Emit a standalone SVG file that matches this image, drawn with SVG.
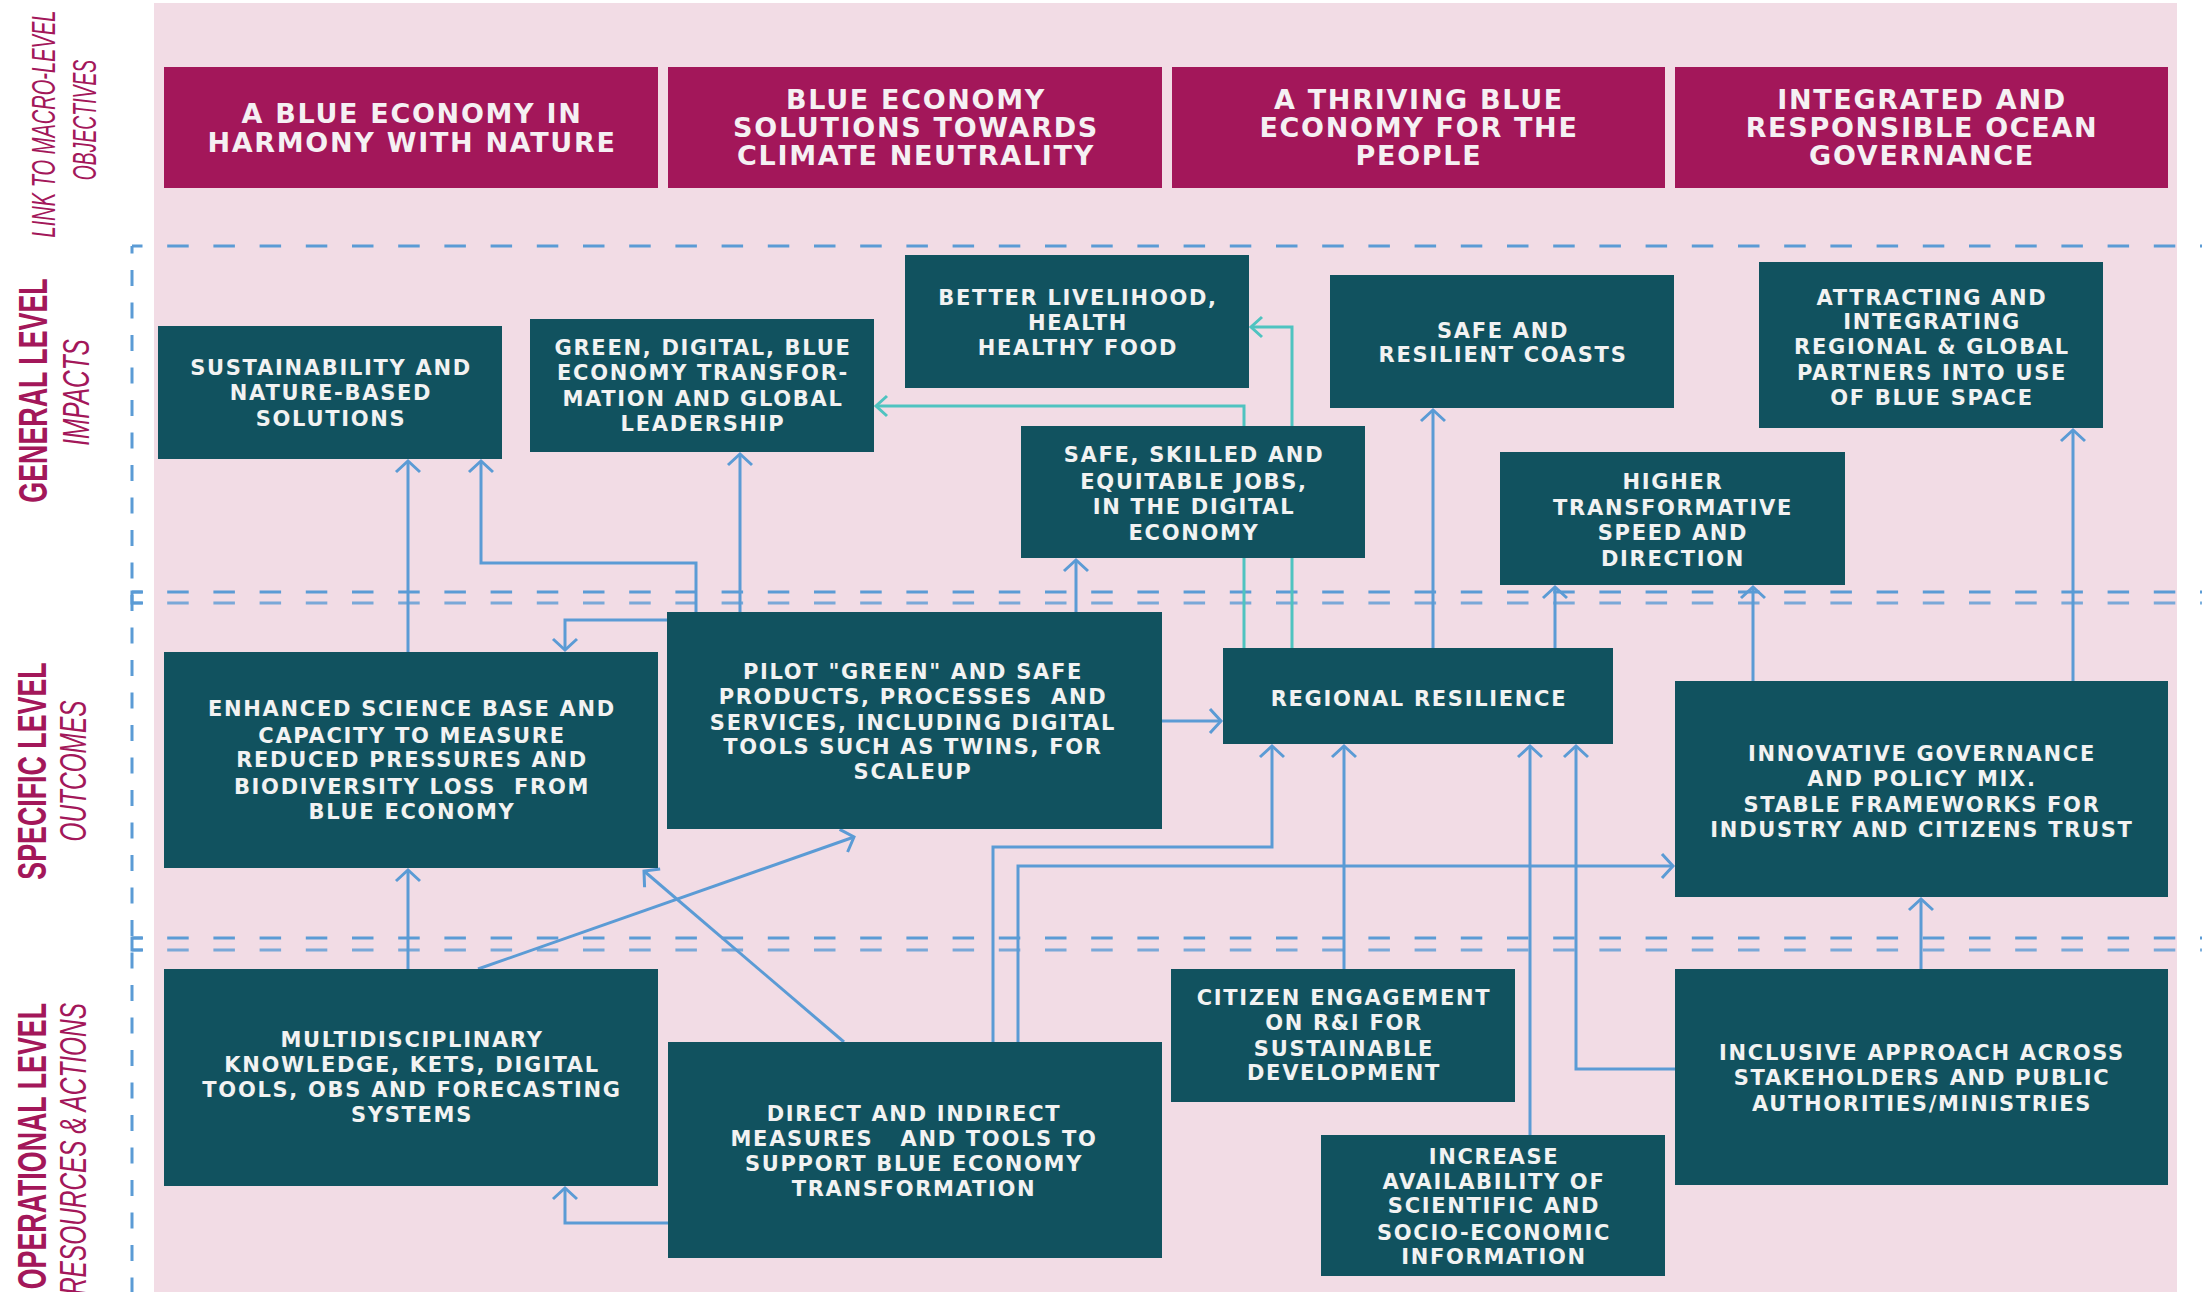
<svg xmlns="http://www.w3.org/2000/svg" width="2202" height="1292" viewBox="0 0 2202 1292">
<style>
.bg{fill:#F2DCE5}
.obj{fill:#A3175A}
.box{fill:#11525F}
.h{font-family:"DejaVu Sans",sans-serif;font-weight:bold;font-size:27px;letter-spacing:1.7px;fill:#F5F0F3;text-anchor:middle}
.t{font-family:"DejaVu Sans",sans-serif;font-weight:bold;font-size:21px;letter-spacing:1.7px;fill:#F2F2F2;text-anchor:middle}
.lvl{font-family:"Liberation Sans",Arial,sans-serif;font-weight:bold;font-size:40px;fill:#A3175A}
.sub{font-family:"Liberation Sans",Arial,sans-serif;font-style:italic;font-size:37px;fill:#A3175A}
.link{font-family:"Liberation Sans",Arial,sans-serif;font-style:italic;font-size:34px;fill:#A3175A}
.dh{fill:none;stroke:#5B9BD5;stroke-width:3;stroke-dasharray:21.5 24.7;stroke-dashoffset:11}
.dv{fill:none;stroke:#5B9BD5;stroke-width:3;stroke-dasharray:16 16.5;stroke-dashoffset:8.5}
.br{fill:none;stroke:#5B9BD5;stroke-width:3}
.c{fill:none;stroke:#5B9BD5;stroke-width:3;marker-end:url(#ah)}
.cc{fill:none;stroke:#4FC3C0;stroke-width:3;marker-end:url(#ahc)}
</style>
<defs>
<marker id="ah" viewBox="-16 -16 20 32" markerWidth="20" markerHeight="32" refX="0" refY="0" orient="auto" markerUnits="userSpaceOnUse">
<path d="M-11,-12 L0,0 L-11,12" fill="none" stroke="#5B9BD5" stroke-width="3"/>
</marker>
<marker id="ahc" viewBox="-16 -16 20 32" markerWidth="20" markerHeight="32" refX="0" refY="0" orient="auto" markerUnits="userSpaceOnUse">
<path d="M-11,-10 L0,0 L-11,10" fill="none" stroke="#4FC3C0" stroke-width="3"/>
</marker>
</defs>

<rect width="2202" height="1292" fill="#FFFFFF"/>
<rect class="bg" x="154" y="3" width="2023" height="1289"/>

<g id="guides">
<path class="dh" d="M132,246 H2202"/>
<path class="dh" d="M132,592 H2202"/>
<path class="dh" d="M132,603 H2202" stroke-opacity="0.8"/>
<path class="dh" d="M132,938 H2202"/>
<path class="dh" d="M132,950 H2202" stroke-opacity="0.8"/>
<path class="dv" d="M132,246 V1292"/>
<path class="br" d="M143,592 H132 V603 H143"/>
<path class="br" d="M143,938 H132 V950 H143"/>
</g>

<g id="side-labels">
<text class="link" text-anchor="middle" transform="translate(55,124) rotate(-90) scale(0.59,1)">LINK TO MACRO-LEVEL</text>
<text class="link" text-anchor="middle" transform="translate(96,120) rotate(-90) scale(0.57,1)">OBJECTIVES</text>
<text class="lvl" text-anchor="middle" transform="translate(47,390.5) rotate(-90) scale(0.67,1)">GENERAL LEVEL</text>
<text class="sub" text-anchor="middle" transform="translate(89,392.5) rotate(-90) scale(0.66,1)">IMPACTS</text>
<text class="lvl" text-anchor="middle" transform="translate(46,771) rotate(-90) scale(0.67,1)">SPECIFIC LEVEL</text>
<text class="sub" text-anchor="middle" transform="translate(86,771) rotate(-90) scale(0.66,1)">OUTCOMES</text>
<text class="lvl" text-anchor="end" transform="translate(46,1003) rotate(-90) scale(0.67,1)">OPERATIONAL LEVEL</text>
<text class="sub" text-anchor="end" transform="translate(86,1003) rotate(-90) scale(0.66,1)">RESOURCES &amp; ACTIONS</text>
</g>

<g id="connectors">
<path class="c" d="M408,652 V461"/>
<path class="c" d="M696,612 V563 H481 V461"/>
<path class="c" d="M667,620 H565 V650"/>
<path class="c" d="M740,612 V454"/>
<path class="c" d="M1076,612 V560"/>
<path class="c" d="M1162,721 H1221"/>
<path class="cc" d="M1244,648 V406 H876"/>
<path class="cc" d="M1292,648 V327 H1251"/>
<path class="c" d="M1433,648 V410"/>
<path class="c" d="M1555,648 V587"/>
<path class="c" d="M1753,681 V587"/>
<path class="c" d="M2073,681 V430"/>
<path class="c" d="M1921,969 V899"/>
<path class="c" d="M408,969 V870"/>
<path class="c" d="M478,969 L854,837"/>
<path class="c" d="M844,1042 L644,871"/>
<path class="c" d="M668,1223 H565 V1188"/>
<path class="c" d="M993,1042 V847 H1272 V746"/>
<path class="c" d="M1018,1042 V866 H1673"/>
<path class="c" d="M1344,969 V746"/>
<path class="c" d="M1530,1135 V746"/>
<path class="c" d="M1675,1069 H1576 V746"/>
</g>

<g id="obj-harmony">
<rect class="obj" x="164" y="67" width="494" height="121"/>
<text class="h" x="412" y="122.5">A BLUE ECONOMY IN</text>
<text class="h" x="412" y="151.5">HARMONY WITH NATURE</text>
</g>
<g id="obj-climate">
<rect class="obj" x="668" y="67" width="494" height="121"/>
<text class="h" x="916" y="108.5">BLUE ECONOMY</text>
<text class="h" x="916" y="136.5">SOLUTIONS TOWARDS</text>
<text class="h" x="916" y="164.5">CLIMATE NEUTRALITY</text>
</g>
<g id="obj-people">
<rect class="obj" x="1172" y="67" width="493" height="121"/>
<text class="h" x="1419" y="108.5">A THRIVING BLUE</text>
<text class="h" x="1419" y="136.5">ECONOMY FOR THE</text>
<text class="h" x="1419" y="164.5">PEOPLE</text>
</g>
<g id="obj-governance">
<rect class="obj" x="1675" y="67" width="493" height="121"/>
<text class="h" x="1922" y="108.5">INTEGRATED AND</text>
<text class="h" x="1922" y="136.5">RESPONSIBLE OCEAN</text>
<text class="h" x="1922" y="164.5">GOVERNANCE</text>
</g>

<g id="imp-sustainability">
<rect class="box" x="158" y="326" width="344" height="133"/>
<text class="t" x="331" y="374.5">SUSTAINABILITY AND</text>
<text class="t" x="331" y="399.5">NATURE-BASED</text>
<text class="t" x="331" y="425.5">SOLUTIONS</text>
</g>
<g id="imp-green-digital">
<rect class="box" x="530" y="319" width="344" height="133"/>
<text class="t" x="703" y="354.5">GREEN, DIGITAL, BLUE</text>
<text class="t" x="703" y="379.5">ECONOMY TRANSFOR-</text>
<text class="t" x="703" y="405.5">MATION AND GLOBAL</text>
<text class="t" x="703" y="430.5">LEADERSHIP</text>
</g>
<g id="imp-livelihood">
<rect class="box" x="905" y="255" width="344" height="133"/>
<text class="t" x="1078" y="304.5">BETTER LIVELIHOOD,</text>
<text class="t" x="1078" y="329.5">HEALTH</text>
<text class="t" x="1078" y="354.5">HEALTHY FOOD</text>
</g>
<g id="imp-jobs">
<rect class="box" x="1021" y="426" width="344" height="132"/>
<text class="t" x="1194" y="461.5">SAFE, SKILLED AND</text>
<text class="t" x="1194" y="488.5">EQUITABLE JOBS,</text>
<text class="t" x="1194" y="513.5">IN THE DIGITAL</text>
<text class="t" x="1194" y="539.5">ECONOMY</text>
</g>
<g id="imp-coasts">
<rect class="box" x="1330" y="275" width="344" height="133"/>
<text class="t" x="1503" y="337.5">SAFE AND</text>
<text class="t" x="1503" y="361.5">RESILIENT COASTS</text>
</g>
<g id="imp-partners">
<rect class="box" x="1759" y="262" width="344" height="166"/>
<text class="t" x="1932" y="304.5">ATTRACTING AND</text>
<text class="t" x="1932" y="328.5">INTEGRATING</text>
<text class="t" x="1932" y="353.5">REGIONAL &amp; GLOBAL</text>
<text class="t" x="1932" y="379.5">PARTNERS INTO USE</text>
<text class="t" x="1932" y="404.5">OF BLUE SPACE</text>
</g>
<g id="imp-speed">
<rect class="box" x="1500" y="452" width="345" height="133"/>
<text class="t" x="1673" y="488.5">HIGHER</text>
<text class="t" x="1673" y="514.5">TRANSFORMATIVE</text>
<text class="t" x="1673" y="539.5">SPEED AND</text>
<text class="t" x="1673" y="565.5">DIRECTION</text>
</g>

<g id="out-science">
<rect class="box" x="164" y="652" width="494" height="216"/>
<text class="t" x="412" y="715.5">ENHANCED SCIENCE BASE AND</text>
<text class="t" x="412" y="742.5">CAPACITY TO MEASURE</text>
<text class="t" x="412" y="766.5">REDUCED PRESSURES AND</text>
<text class="t" x="412" y="793.5" xml:space="preserve">BIODIVERSITY LOSS  FROM</text>
<text class="t" x="412" y="818.5">BLUE ECONOMY</text>
</g>
<g id="out-pilot">
<rect class="box" x="667" y="612" width="495" height="217"/>
<text class="t" x="913" y="678.5">PILOT "GREEN" AND SAFE</text>
<text class="t" x="913" y="703.5" xml:space="preserve">PRODUCTS, PROCESSES  AND</text>
<text class="t" x="913" y="729.5">SERVICES, INCLUDING DIGITAL</text>
<text class="t" x="913" y="753.5">TOOLS SUCH AS TWINS, FOR</text>
<text class="t" x="913" y="778.5">SCALEUP</text>
</g>
<g id="out-resilience">
<rect class="box" x="1223" y="648" width="390" height="96"/>
<text class="t" x="1419" y="705.5">REGIONAL RESILIENCE</text>
</g>
<g id="out-governance">
<rect class="box" x="1675" y="681" width="493" height="216"/>
<text class="t" x="1922" y="760.5">INNOVATIVE GOVERNANCE</text>
<text class="t" x="1922" y="785.5">AND POLICY MIX.</text>
<text class="t" x="1922" y="811.5">STABLE FRAMEWORKS FOR</text>
<text class="t" x="1922" y="836.5">INDUSTRY AND CITIZENS TRUST</text>
</g>

<g id="op-knowledge">
<rect class="box" x="164" y="969" width="494" height="217"/>
<text class="t" x="412" y="1046.5">MULTIDISCIPLINARY</text>
<text class="t" x="412" y="1071.5">KNOWLEDGE, KETS, DIGITAL</text>
<text class="t" x="412" y="1096.5">TOOLS, OBS AND FORECASTING</text>
<text class="t" x="412" y="1121.5">SYSTEMS</text>
</g>
<g id="op-measures">
<rect class="box" x="668" y="1042" width="494" height="216"/>
<text class="t" x="914" y="1120.5">DIRECT AND INDIRECT</text>
<text class="t" x="914" y="1145.5" xml:space="preserve">MEASURES   AND TOOLS TO</text>
<text class="t" x="914" y="1170.5">SUPPORT BLUE ECONOMY</text>
<text class="t" x="914" y="1195.5">TRANSFORMATION</text>
</g>
<g id="op-citizen">
<rect class="box" x="1171" y="969" width="344" height="133"/>
<text class="t" x="1344" y="1004.5">CITIZEN ENGAGEMENT</text>
<text class="t" x="1344" y="1029.5">ON R&amp;I FOR</text>
<text class="t" x="1344" y="1055.5">SUSTAINABLE</text>
<text class="t" x="1344" y="1079.5">DEVELOPMENT</text>
</g>
<g id="op-information">
<rect class="box" x="1321" y="1135" width="344" height="141"/>
<text class="t" x="1494" y="1163.5">INCREASE</text>
<text class="t" x="1494" y="1188.5">AVAILABILITY OF</text>
<text class="t" x="1494" y="1212.5">SCIENTIFIC AND</text>
<text class="t" x="1494" y="1239.5">SOCIO-ECONOMIC</text>
<text class="t" x="1494" y="1263.5">INFORMATION</text>
</g>
<g id="op-inclusive">
<rect class="box" x="1675" y="969" width="493" height="216"/>
<text class="t" x="1922" y="1059.5">INCLUSIVE APPROACH ACROSS</text>
<text class="t" x="1922" y="1084.5">STAKEHOLDERS AND PUBLIC</text>
<text class="t" x="1922" y="1110.5">AUTHORITIES/MINISTRIES</text>
</g>
</svg>
